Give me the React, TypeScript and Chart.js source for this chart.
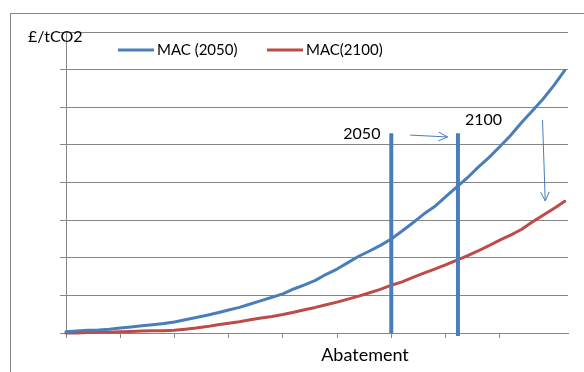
import { useEffect, useRef } from 'react';
import { Chart, registerables } from 'chart.js';

Chart.register(...registerables);

// Cumulative abatement (category index along the curve)
const ABATEMENT = [
  0, 2, 4, 6, 8, 10, 12, 14, 16, 18, 20, 22, 24, 26, 28, 30, 32, 34, 36, 38, 40, 42, 44, 46,
  48, 50, 52, 54, 56, 58, 60, 62, 64, 66, 68, 70, 72, 74, 76, 78, 80, 82, 84, 86, 88, 90, 92,
];

// Marginal abatement cost, 2050 curve
const MAC_2050 = [
  0.03, 0.05, 0.07, 0.08, 0.1, 0.13, 0.16, 0.19, 0.22, 0.25, 0.29, 0.35, 0.41, 0.47, 0.54, 0.61,
  0.68, 0.77, 0.86, 0.95, 1.04, 1.17, 1.28, 1.4, 1.56, 1.7, 1.87, 2.04, 2.18, 2.33, 2.5, 2.71,
  2.93, 3.16, 3.36, 3.62, 3.87, 4.12, 4.4, 4.66, 4.95, 5.25, 5.59, 5.9, 6.22, 6.58, 6.98,
];

// Marginal abatement cost, 2100 curve
const MAC_2100 = [
  0.0, 0.0, 0.01, 0.02, 0.02, 0.03, 0.04, 0.05, 0.06, 0.06, 0.07, 0.1, 0.13, 0.17, 0.22, 0.26,
  0.3, 0.35, 0.4, 0.44, 0.49, 0.55, 0.62, 0.68, 0.75, 0.82, 0.9, 0.98, 1.07, 1.16, 1.27, 1.36,
  1.48, 1.59, 1.7, 1.81, 1.93, 2.05, 2.18, 2.32, 2.47, 2.6, 2.75, 2.95, 3.13, 3.31, 3.5,
];

const SERIES_NAMES = ['MAC (2050)', 'MAC(2100)'];

// Abatement levels reached by each horizon year
const HORIZON_LABELS = ['2050', '2100'];
const HORIZON_X = [60, 72.3];
const HORIZON_BOTTOM = [0, -0.08];
const HORIZON_TOP = 5.31;

const Y_MAX = 8;
const Y_STEP = 1;
const X_MAX = 92.6;
const X_TICK_STEP = 10;

const Y_TITLE = '£/tCO2';
const X_TITLE = 'Abatement';

const BLUE = '#4a7ebb';
const RED = '#be4b48';
const GRID = '#868686';
const FONT = 'Lato, "Open Sans", sans-serif';

function drawArrow(ctx: CanvasRenderingContext2D, x1: number, y1: number, x2: number, y2: number) {
  const ang = Math.atan2(y2 - y1, x2 - x1);
  const head = 10;
  const spread = 0.45;
  ctx.beginPath();
  ctx.moveTo(x1, y1);
  ctx.lineTo(x2, y2);
  ctx.moveTo(x2 - head * Math.cos(ang - spread), y2 - head * Math.sin(ang - spread));
  ctx.lineTo(x2, y2);
  ctx.lineTo(x2 - head * Math.cos(ang + spread), y2 - head * Math.sin(ang + spread));
  ctx.stroke();
}

const decorations = {
  id: 'decorations',
  beforeDraw(chart: any) {
    const { ctx, width, height } = chart;
    ctx.save();
    ctx.fillStyle = '#ffffff';
    ctx.fillRect(0, 0, width, height);
    ctx.strokeStyle = GRID;
    ctx.lineWidth = 1;
    ctx.strokeRect(10.5, 13.5, width + 20, height + 20);
    ctx.restore();
  },
  afterDraw(chart: any) {
    const { ctx } = chart;
    const xs = chart.scales.x;
    const ys = chart.scales.y;
    const px = (v: number) => xs.getPixelForValue(v);
    const py = (v: number) => ys.getPixelForValue(v);

    ctx.save();
    ctx.fillStyle = '#000000';
    ctx.textBaseline = 'middle';

    // Axis titles
    ctx.font = `16px ${FONT}`;
    ctx.textAlign = 'left';
    ctx.fillText(Y_TITLE, 28, 37);
    ctx.font = `18px ${FONT}`;
    ctx.textAlign = 'center';
    ctx.fillText(X_TITLE, 365, 355);

    // Horizon year labels
    ctx.font = `16px ${FONT}`;
    ctx.textAlign = 'right';
    ctx.fillText(HORIZON_LABELS[0], px(58), py(5.29));
    ctx.textAlign = 'left';
    ctx.fillText(HORIZON_LABELS[1], px(73.6), py(5.66));

    // Shift arrows
    ctx.strokeStyle = BLUE;
    ctx.lineWidth = 1;
    drawArrow(ctx, px(63.5), py(5.26), px(70.4), py(5.21));
    drawArrow(ctx, px(87.9), py(5.66), px(88.4), py(3.51));

    // Legend
    const legendX = [118, 267];
    const colors = [BLUE, RED];
    ctx.font = `15px ${FONT}`;
    ctx.textAlign = 'left';
    SERIES_NAMES.forEach((name, i) => {
      ctx.strokeStyle = colors[i];
      ctx.lineWidth = 3;
      ctx.beginPath();
      ctx.moveTo(legendX[i], 50);
      ctx.lineTo(legendX[i] + 36, 50);
      ctx.stroke();
      ctx.fillText(name, legendX[i] + 39, 50);
    });
    ctx.restore();
  },
};

export default function App() {
  const canvasRef = useRef<HTMLCanvasElement | null>(null);

  useEffect(() => {
    if (!canvasRef.current) return;
    const curve = (ys: number[]) => ABATEMENT.map((x, i) => ({ x, y: ys[i] }));
    const horizon = (i: number) => [
      { x: HORIZON_X[i], y: HORIZON_BOTTOM[i] },
      { x: HORIZON_X[i], y: HORIZON_TOP },
    ];
    const lineStyle = {
      pointRadius: 0,
      tension: 0,
      borderCapStyle: 'round' as const,
      borderJoinStyle: 'round' as const,
      clip: false as const,
    };

    const chart = new Chart(canvasRef.current, {
      type: 'line',
      data: {
        datasets: [
          { label: HORIZON_LABELS[0], data: horizon(0), borderColor: BLUE, borderWidth: 4, order: 0, ...lineStyle, borderCapStyle: 'butt' },
          { label: HORIZON_LABELS[1], data: horizon(1), borderColor: BLUE, borderWidth: 4, order: 0, ...lineStyle, borderCapStyle: 'butt' },
          { label: SERIES_NAMES[0], data: curve(MAC_2050), borderColor: BLUE, borderWidth: 3, order: 1, ...lineStyle },
          { label: SERIES_NAMES[1], data: curve(MAC_2100), borderColor: RED, borderWidth: 3, order: 1, ...lineStyle },
        ],
      },
      options: {
        animation: false,
        responsive: false,
        maintainAspectRatio: false,
        layout: { padding: { left: 60, right: 16, top: 32, bottom: 34 } },
        plugins: { legend: { display: false }, tooltip: { enabled: false } },
        scales: {
          x: {
            type: 'linear',
            min: 0,
            max: X_MAX,
            afterBuildTicks: (s: any) => {
              s.ticks = s.ticks.filter((t: any) => t.value % X_TICK_STEP === 0);
            },
            ticks: { display: false, stepSize: X_TICK_STEP },
            grid: { drawOnChartArea: false, drawTicks: true, tickLength: 5, color: GRID },
            border: { color: GRID },
          },
          y: {
            min: 0,
            max: Y_MAX,
            ticks: { display: false, stepSize: Y_STEP },
            grid: { color: GRID, tickLength: 6 },
            border: { color: GRID },
          },
        },
      },
      plugins: [decorations],
    });
    return () => chart.destroy();
  }, []);

  return (
    <div style={{ position: 'fixed', left: 0, top: 0, width: 584, height: 372 }}>
      <canvas ref={canvasRef} width={584} height={372} />
    </div>
  );
}
